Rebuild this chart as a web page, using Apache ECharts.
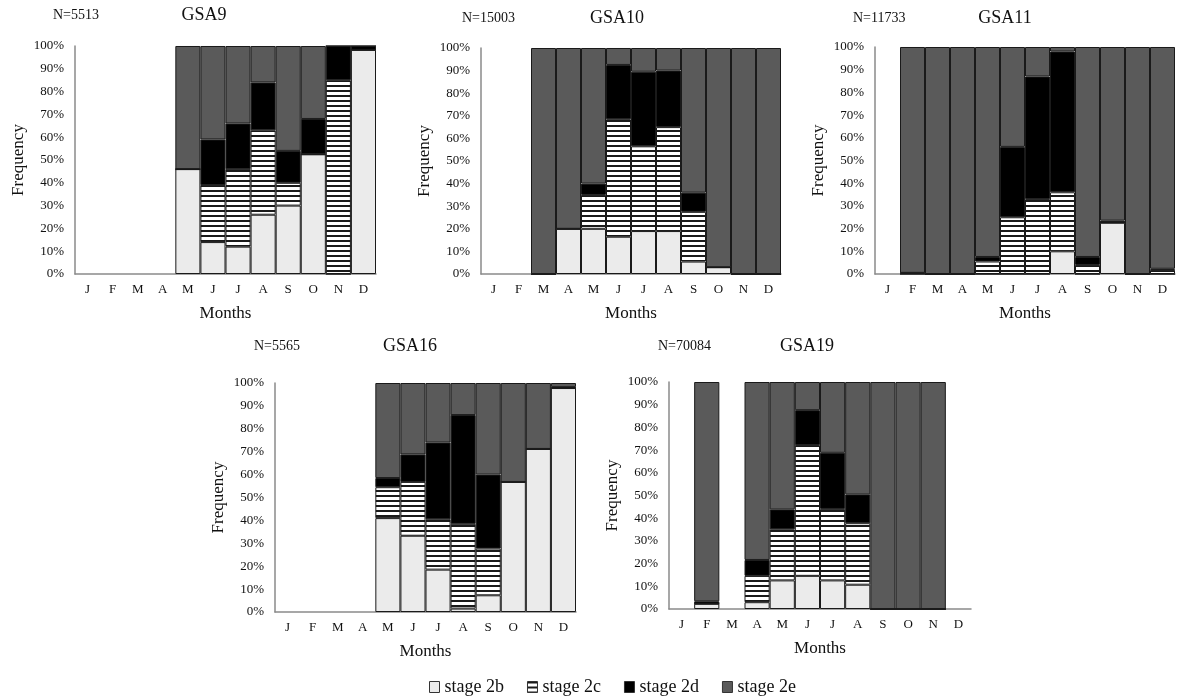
<!DOCTYPE html>
<html>
<head>
<meta charset="utf-8">
<title>Maturity stages by month</title>
<script src="https://cdn.jsdelivr.net/npm/echarts@6/dist/echarts.min.js"></script>
<style>
    html, body { margin: 0; padding: 0; background: #fff; }
    #chart { width: 1177px; height: 697px; }
</style>
</head>
<body>
<div id="chart"></div>
<script>
const months = ['J', 'F', 'M', 'A', 'M', 'J', 'J', 'A', 'S', 'O', 'N', 'D']
const stageNames = ['stage 2b', 'stage 2c', 'stage 2d', 'stage 2e']
const yTicks = [0, 10, 20, 30, 40, 50, 60, 70, 80, 90, 100]

// GSA9  N=5513
const gsa9_2b = [null, null, null, null, 46, 14, 12, 26, 30, 52.5, 0, 98.3]
const gsa9_2c = [null, null, null, null, 0, 25, 34, 37, 10, 0, 85, 0]
const gsa9_2d = [null, null, null, null, 0, 20, 20, 21, 14, 15.5, 15, 1.7]
const gsa9_2e = [null, null, null, null, 54, 41, 34, 16, 46, 32, 0, 0]

// GSA10  N=15003
const gsa10_2b = [null, null, 0, 20, 20, 16.5, 19, 19, 5.5, 3, 0, 0]
const gsa10_2c = [null, null, 0, 0, 15, 52, 37.5, 46, 22, 0, 0, 0]
const gsa10_2d = [null, null, 0, 0, 5, 24, 33, 25, 8.5, 0, 0, 0]
const gsa10_2e = [null, null, 100, 80, 60, 7.5, 10.5, 10, 64, 97, 100, 100]

// GSA11  N=11733
const gsa11_2b = [null, 0, 0, 0, 0, 0, 0, 10, 0, 22.6, 0, 0]
const gsa11_2c = [null, 0.5, 0, 0, 5.5, 25, 33, 26, 4, 0, 0, 1.8]
const gsa11_2d = [null, 0, 0, 0, 2, 31, 54, 62, 3.5, 0.9, 0, 0.5]
const gsa11_2e = [null, 99.5, 100, 100, 92.5, 44, 13, 2, 92.5, 76.5, 100, 97.7]

// GSA16  N=5565
const gsa16_2b = [null, null, null, null, 41, 33.3, 18.5, 1.5, 7.3, 56.8, 71.2, 97.8]
const gsa16_2c = [null, null, null, null, 13.5, 23.5, 22, 37, 20.4, 0, 0, 0]
const gsa16_2d = [null, null, null, null, 4, 12, 33.5, 47.5, 32.3, 0, 0, 0.4]
const gsa16_2e = [null, null, null, null, 41.5, 31.2, 26, 14, 40, 43.2, 28.8, 1.8]

// GSA19  N=70084
const gsa19_2b = [null, 2.3, null, 3, 12.6, 14.6, 12.6, 10.7, 0, 0, 0, null]
const gsa19_2c = [null, 0, null, 11.6, 22.5, 57.6, 31.5, 27.1, 0, 0, 0, null]
const gsa19_2d = [null, 1.1, null, 7, 8.8, 15.4, 24.7, 12.7, 0, 0, 0, null]
const gsa19_2e = [null, 96.6, null, 78.4, 56.1, 12.4, 31.2, 49.5, 100, 100, 100, null]

const panels = [
    { title: 'GSA9', n: 'N=5513', data: [gsa9_2b, gsa9_2c, gsa9_2d, gsa9_2e], left: 75, top: 46, width: 301, height: 228, tx: 204, ty: 15, nx: 53 },
    { title: 'GSA10', n: 'N=15003', data: [gsa10_2b, gsa10_2c, gsa10_2d, gsa10_2e], left: 481, top: 48, width: 300, height: 226, tx: 617, ty: 18, nx: 462 },
    { title: 'GSA11', n: 'N=11733', data: [gsa11_2b, gsa11_2c, gsa11_2d, gsa11_2e], left: 875, top: 47, width: 300, height: 227, tx: 1005, ty: 18, nx: 853 },
    { title: 'GSA16', n: 'N=5565', data: [gsa16_2b, gsa16_2c, gsa16_2d, gsa16_2e], left: 275, top: 383, width: 301, height: 229, tx: 410, ty: 346, nx: 254 },
    { title: 'GSA19', n: 'N=70084', data: [gsa19_2b, gsa19_2c, gsa19_2d, gsa19_2e], left: 669, top: 382, width: 302, height: 227, tx: 807, ty: 346, nx: 658 }
]

// horizontal stripes for stage 2c
let stripe = document.createElement('canvas')
stripe.width = 4
stripe.height = 5
let sctx = stripe.getContext('2d')
sctx.fillStyle = '#ffffff'
sctx.fillRect(0, 0, 4, 5)
sctx.fillStyle = '#1a1a1a'
sctx.fillRect(0, 0, 4, 2)

const stageColors = ['#ebebeb', { image: stripe, repeat: 'repeat' }, '#000000', '#5a5a5a']
const font = '"Liberation Serif", "Times New Roman", serif'

let myChart = echarts.init(document.getElementById('chart'))

let grid = []
let xAxis = []
let yAxis = []
let series = []
let graphic = []

panels.forEach((p, i) => {
    grid.push({ left: p.left, top: p.top, width: p.width, height: p.height, containLabel: false, outerBoundsMode: 'none' })
    xAxis.push({
        type: 'category',
        gridIndex: i,
        data: months,
        name: 'Months',
        nameLocation: 'middle',
        nameGap: 31,
        nameTextStyle: { fontFamily: font, fontSize: 17, color: '#111' },
        axisTick: { show: false },
        axisLine: { show: true, lineStyle: { color: '#8a8a8a', width: 1.5 } },
        axisLabel: { fontFamily: font, fontSize: 13, color: '#111', margin: 9, interval: 0 }
    })
    yAxis.push({
        type: 'value',
        gridIndex: i,
        min: yTicks[0],
        max: yTicks[yTicks.length - 1],
        interval: 10,
        name: 'Frequency',
        nameLocation: 'middle',
        nameGap: 48,
        nameTextStyle: { fontFamily: font, fontSize: 17, color: '#111' },
        axisTick: { show: false },
        splitLine: { show: false },
        axisLine: { show: true, lineStyle: { color: '#8a8a8a', width: 1.5 } },
        axisLabel: { fontFamily: font, fontSize: 13, color: '#111', margin: 11, formatter: '{value}%' }
    })
    stageNames.forEach((s, k) => {
        series.push({
            name: s,
            type: 'bar',
            xAxisIndex: i,
            yAxisIndex: i,
            stack: 'p' + i,
            barCategoryGap: '0%',
            itemStyle: { color: stageColors[k], borderColor: '#1a1a1a', borderWidth: 1 },
            emphasis: { disabled: true },
            data: p.data[k]
        })
    })
    graphic.push({
        type: 'text',
        x: p.tx,
        y: p.ty,
        style: { text: p.title, font: '18px ' + font, fill: '#111', align: 'center', verticalAlign: 'middle' }
    })
    graphic.push({
        type: 'text',
        x: p.nx,
        y: p.ty,
        style: { text: p.n, font: '14px ' + font, fill: '#111', align: 'left', verticalAlign: 'middle' }
    })
})

let option = {
    animation: false,
    grid: grid,
    xAxis: xAxis,
    yAxis: yAxis,
    legend: {
        data: stageNames,
        left: 424,
        top: 673,
        icon: 'rect',
        itemWidth: 10,
        itemHeight: 11,
        itemGap: 23,
        textStyle: { fontFamily: font, fontSize: 18, color: '#111' },
        itemStyle: { borderColor: '#333', borderWidth: 1 }
    },
    graphic: graphic,
    series: series
}
myChart.setOption(option)
</script>
</body>
</html>
